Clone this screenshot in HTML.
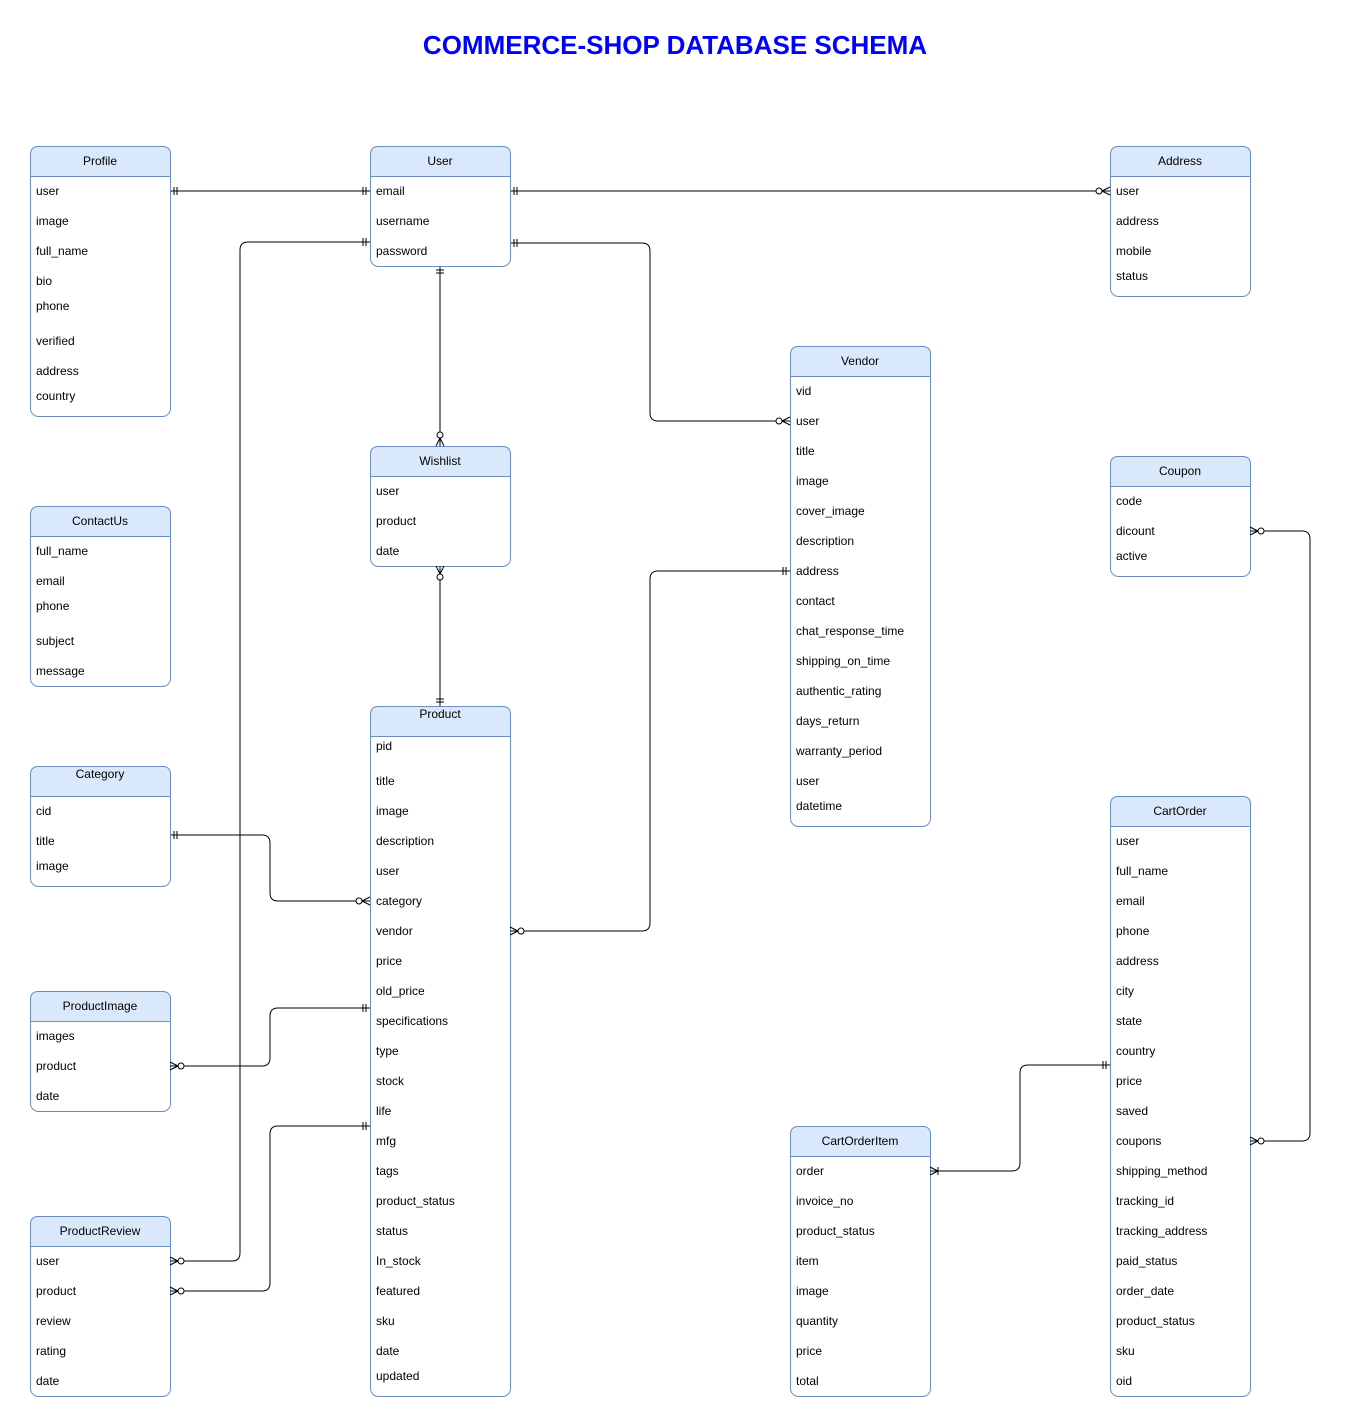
<!DOCTYPE html>
<html><head><meta charset="utf-8"><style>
html,body{margin:0;padding:0;background:#fff;}
svg{display:block;}
text{font-family:"Liberation Sans",Arial,sans-serif;font-size:12px;fill:#000;}
.t{font-size:26px;font-weight:bold;fill:#0000ff;}
.h{text-anchor:middle;}
.b{fill:#fff;stroke:#6c8ebf;stroke-width:1;}
.hd{fill:#dae8fc;stroke:#6c8ebf;stroke-width:1;}
.l{fill:none;stroke:#000;stroke-width:1;}
</style></head><body>
<svg width="1350" height="1427" viewBox="0 0 1350 1427" xmlns="http://www.w3.org/2000/svg">
<defs>
<g id="one"><path d="M-4,-4V4M-7,-4V4" stroke="#000" fill="none"/></g>
<g id="mo"><path d="M-8,0L0,-4M-8,0L0,4M-8,0H0" stroke="#000" fill="none"/><circle cx="-11" cy="0" r="3" fill="#fff" stroke="#000"/></g>
<g id="om"><path d="M-8,0L0,-4M-8,0L0,4M-8,0H0M-8,-4V4" stroke="#000" fill="none"/></g>
</defs>
<text class="t" x="675" y="54" text-anchor="middle">COMMERCE-SHOP DATABASE SCHEMA</text>

<path class="l" d="M170,191H370"/>
<path class="l" d="M510,191H1110"/>
<path class="l" d="M370,242H248Q240,242 240,250V1253Q240,1261 232,1261H170"/>
<path class="l" d="M510,243H642Q650,243 650,251V413Q650,421 658,421H790"/>
<path class="l" d="M440,266V446"/>
<path class="l" d="M440,566V706"/>
<path class="l" d="M510,931H642Q650,931 650,923V579Q650,571 658,571H790"/>
<path class="l" d="M170,835H262Q270,835 270,843V893Q270,901 278,901H370"/>
<path class="l" d="M170,1066H262Q270,1066 270,1058V1016Q270,1008 278,1008H370"/>
<path class="l" d="M170,1291H262Q270,1291 270,1283V1134Q270,1126 278,1126H370"/>
<path class="l" d="M1250,531H1302Q1310,531 1310,539V1133Q1310,1141 1302,1141H1250"/>
<path class="l" d="M930,1171H1012Q1020,1171 1020,1163V1073Q1020,1065 1028,1065H1110"/>

<g>
<rect class="b" x="30.5" y="146.5" width="140" height="270" rx="8"/><path class="hd" d="M30.5,176.5V154.5Q30.5,146.5 38.5,146.5H162.5Q170.5,146.5 170.5,154.5V176.5Z"/><text class="h" x="100" y="165">Profile</text>
<rect class="b" x="370.5" y="146.5" width="140" height="120" rx="8"/><path class="hd" d="M370.5,176.5V154.5Q370.5,146.5 378.5,146.5H502.5Q510.5,146.5 510.5,154.5V176.5Z"/><text class="h" x="440" y="165">User</text>
<rect class="b" x="1110.5" y="146.5" width="140" height="150" rx="8"/><path class="hd" d="M1110.5,176.5V154.5Q1110.5,146.5 1118.5,146.5H1242.5Q1250.5,146.5 1250.5,154.5V176.5Z"/><text class="h" x="1180" y="165">Address</text>
<rect class="b" x="790.5" y="346.5" width="140" height="480" rx="8"/><path class="hd" d="M790.5,376.5V354.5Q790.5,346.5 798.5,346.5H922.5Q930.5,346.5 930.5,354.5V376.5Z"/><text class="h" x="860" y="365">Vendor</text>
<rect class="b" x="370.5" y="446.5" width="140" height="120" rx="8"/><path class="hd" d="M370.5,476.5V454.5Q370.5,446.5 378.5,446.5H502.5Q510.5,446.5 510.5,454.5V476.5Z"/><text class="h" x="440" y="465">Wishlist</text>
<rect class="b" x="1110.5" y="456.5" width="140" height="120" rx="8"/><path class="hd" d="M1110.5,486.5V464.5Q1110.5,456.5 1118.5,456.5H1242.5Q1250.5,456.5 1250.5,464.5V486.5Z"/><text class="h" x="1180" y="475">Coupon</text>
<rect class="b" x="30.5" y="506.5" width="140" height="180" rx="8"/><path class="hd" d="M30.5,536.5V514.5Q30.5,506.5 38.5,506.5H162.5Q170.5,506.5 170.5,514.5V536.5Z"/><text class="h" x="100" y="525">ContactUs</text>
<rect class="b" x="370.5" y="706.5" width="140" height="690" rx="8"/><path class="hd" d="M370.5,736.5V714.5Q370.5,706.5 378.5,706.5H502.5Q510.5,706.5 510.5,714.5V736.5Z"/><text class="h" x="440" y="718">Product</text>
<rect class="b" x="30.5" y="766.5" width="140" height="120" rx="8"/><path class="hd" d="M30.5,796.5V774.5Q30.5,766.5 38.5,766.5H162.5Q170.5,766.5 170.5,774.5V796.5Z"/><text class="h" x="100" y="778">Category</text>
<rect class="b" x="30.5" y="991.5" width="140" height="120" rx="8"/><path class="hd" d="M30.5,1021.5V999.5Q30.5,991.5 38.5,991.5H162.5Q170.5,991.5 170.5,999.5V1021.5Z"/><text class="h" x="100" y="1010">ProductImage</text>
<rect class="b" x="30.5" y="1216.5" width="140" height="180" rx="8"/><path class="hd" d="M30.5,1246.5V1224.5Q30.5,1216.5 38.5,1216.5H162.5Q170.5,1216.5 170.5,1224.5V1246.5Z"/><text class="h" x="100" y="1235">ProductReview</text>
<rect class="b" x="1110.5" y="796.5" width="140" height="600" rx="8"/><path class="hd" d="M1110.5,826.5V804.5Q1110.5,796.5 1118.5,796.5H1242.5Q1250.5,796.5 1250.5,804.5V826.5Z"/><text class="h" x="1180" y="815">CartOrder</text>
<rect class="b" x="790.5" y="1126.5" width="140" height="270" rx="8"/><path class="hd" d="M790.5,1156.5V1134.5Q790.5,1126.5 798.5,1126.5H922.5Q930.5,1126.5 930.5,1134.5V1156.5Z"/><text class="h" x="860" y="1145">CartOrderItem</text>
</g>

<g>
<text x="36" y="195">user</text><text x="36" y="225">image</text><text x="36" y="255">full_name</text><text x="36" y="285">bio</text><text x="36" y="310">phone</text><text x="36" y="345">verified</text><text x="36" y="375">address</text><text x="36" y="400">country</text>
<text x="376" y="195">email</text><text x="376" y="225">username</text><text x="376" y="255">password</text>
<text x="1116" y="195">user</text><text x="1116" y="225">address</text><text x="1116" y="255">mobile</text><text x="1116" y="280">status</text>
<text x="796" y="395">vid</text><text x="796" y="425">user</text><text x="796" y="455">title</text><text x="796" y="485">image</text><text x="796" y="515">cover_image</text><text x="796" y="545">description</text><text x="796" y="575">address</text><text x="796" y="605">contact</text><text x="796" y="635">chat_response_time</text><text x="796" y="665">shipping_on_time</text><text x="796" y="695">authentic_rating</text><text x="796" y="725">days_return</text><text x="796" y="755">warranty_period</text><text x="796" y="785">user</text><text x="796" y="810">datetime</text>
<text x="376" y="495">user</text><text x="376" y="525">product</text><text x="376" y="555">date</text>
<text x="1116" y="505">code</text><text x="1116" y="535">dicount</text><text x="1116" y="560">active</text>
<text x="36" y="555">full_name</text><text x="36" y="585">email</text><text x="36" y="610">phone</text><text x="36" y="645">subject</text><text x="36" y="675">message</text>
<text x="376" y="750">pid</text><text x="376" y="785">title</text><text x="376" y="815">image</text><text x="376" y="845">description</text><text x="376" y="875">user</text><text x="376" y="905">category</text><text x="376" y="935">vendor</text><text x="376" y="965">price</text><text x="376" y="995">old_price</text><text x="376" y="1025">specifications</text><text x="376" y="1055">type</text><text x="376" y="1085">stock</text><text x="376" y="1115">life</text><text x="376" y="1145">mfg</text><text x="376" y="1175">tags</text><text x="376" y="1205">product_status</text><text x="376" y="1235">status</text><text x="376" y="1265">In_stock</text><text x="376" y="1295">featured</text><text x="376" y="1325">sku</text><text x="376" y="1355">date</text><text x="376" y="1380">updated</text>
<text x="36" y="815">cid</text><text x="36" y="845">title</text><text x="36" y="870">image</text>
<text x="36" y="1040">images</text><text x="36" y="1070">product</text><text x="36" y="1100">date</text>
<text x="36" y="1265">user</text><text x="36" y="1295">product</text><text x="36" y="1325">review</text><text x="36" y="1355">rating</text><text x="36" y="1385">date</text>
<text x="1116" y="845">user</text><text x="1116" y="875">full_name</text><text x="1116" y="905">email</text><text x="1116" y="935">phone</text><text x="1116" y="965">address</text><text x="1116" y="995">city</text><text x="1116" y="1025">state</text><text x="1116" y="1055">country</text><text x="1116" y="1085">price</text><text x="1116" y="1115">saved</text><text x="1116" y="1145">coupons</text><text x="1116" y="1175">shipping_method</text><text x="1116" y="1205">tracking_id</text><text x="1116" y="1235">tracking_address</text><text x="1116" y="1265">paid_status</text><text x="1116" y="1295">order_date</text><text x="1116" y="1325">product_status</text><text x="1116" y="1355">sku</text><text x="1116" y="1385">oid</text>
<text x="796" y="1175">order</text><text x="796" y="1205">invoice_no</text><text x="796" y="1235">product_status</text><text x="796" y="1265">item</text><text x="796" y="1295">image</text><text x="796" y="1325">quantity</text><text x="796" y="1355">price</text><text x="796" y="1385">total</text>
</g>

<use href="#one" transform="translate(170,191) rotate(180)"/>
<use href="#one" transform="translate(370,191)"/>
<use href="#one" transform="translate(510,191) rotate(180)"/>
<use href="#mo" transform="translate(1110,191)"/>
<use href="#one" transform="translate(370,242)"/>
<use href="#mo" transform="translate(170,1261) rotate(180)"/>
<use href="#one" transform="translate(510,243) rotate(180)"/>
<use href="#mo" transform="translate(790,421)"/>
<use href="#one" transform="translate(440,266) rotate(-90)"/>
<use href="#mo" transform="translate(440,446) rotate(90)"/>
<use href="#mo" transform="translate(440,566) rotate(-90)"/>
<use href="#one" transform="translate(440,706) rotate(90)"/>
<use href="#mo" transform="translate(510,931) rotate(180)"/>
<use href="#one" transform="translate(790,571)"/>
<use href="#one" transform="translate(170,835) rotate(180)"/>
<use href="#mo" transform="translate(370,901)"/>
<use href="#mo" transform="translate(170,1066) rotate(180)"/>
<use href="#one" transform="translate(370,1008)"/>
<use href="#mo" transform="translate(170,1291) rotate(180)"/>
<use href="#one" transform="translate(370,1126)"/>
<use href="#mo" transform="translate(1250,531) rotate(180)"/>
<use href="#mo" transform="translate(1250,1141) rotate(180)"/>
<use href="#om" transform="translate(930,1171) rotate(180)"/>
<use href="#one" transform="translate(1110,1065)"/>
</svg>
</body></html>
